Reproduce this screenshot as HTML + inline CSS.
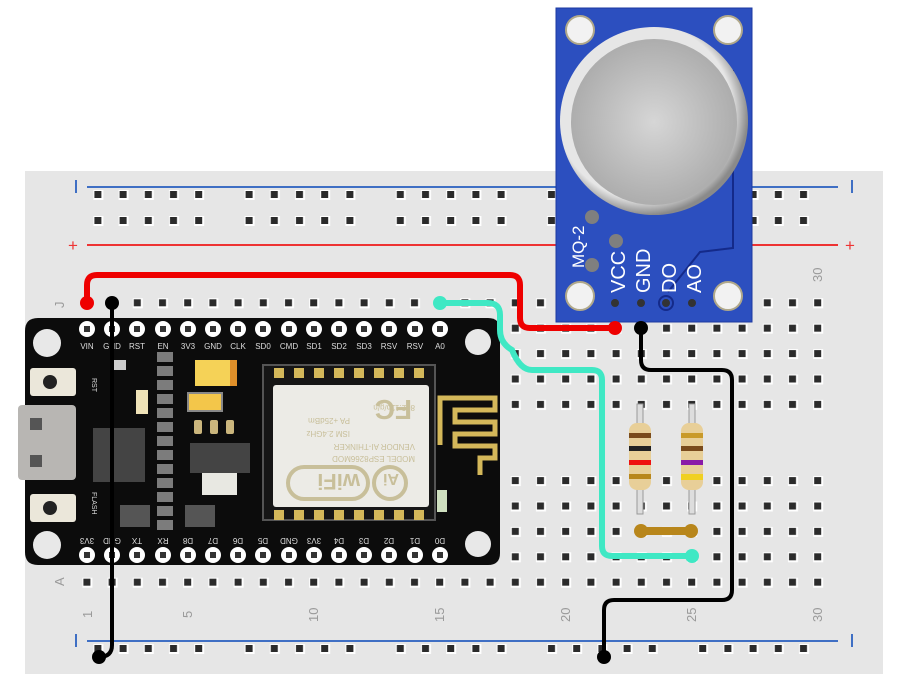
<!DOCTYPE html>
<html><head><meta charset="utf-8"><style>
html,body{margin:0;padding:0;background:#fff;width:900px;height:674px;overflow:hidden}
svg{display:block}
text{font-family:"Liberation Sans",sans-serif}
</style></head><body>
<svg width="900" height="674" viewBox="0 0 900 674" xmlns="http://www.w3.org/2000/svg">
<defs>
<pattern id="hole" x="74.4" y="290.3" width="25.2" height="25.4" patternUnits="userSpaceOnUse">
<rect x="8" y="8" width="10" height="10" fill="#fff"/><rect x="9" y="9" width="7" height="7" fill="#2b2b2b"/>
</pattern>
<pattern id="rh" x="85.4" y="0" width="25.2" height="26" patternUnits="userSpaceOnUse">
<rect x="8" y="8" width="10" height="10" fill="#fff"/><rect x="9" y="9" width="7" height="7" fill="#2b2b2b"/>
</pattern>
<radialGradient id="mesh" cx="50%" cy="50%" r="55%"><stop offset="0" stop-color="#d6d6d6"/><stop offset="1" stop-color="#a9a9a9"/></radialGradient>
<radialGradient id="ring" cx="45%" cy="45%" r="55%"><stop offset="0.85" stop-color="#e6e6e6"/><stop offset="1" stop-color="#8a8a8a"/></radialGradient>
</defs>

<rect x="25" y="171" width="858" height="503" fill="#e6e6e6"/>
<line x1="87" y1="187" x2="838" y2="187" stroke="#3f6fc4" stroke-width="2"/>
<line x1="76" y1="180" x2="76" y2="193" stroke="#3f6fc4" stroke-width="2"/>
<line x1="852" y1="180" x2="852" y2="193" stroke="#3f6fc4" stroke-width="2"/>
<line x1="87" y1="245" x2="838" y2="245" stroke="#e33" stroke-width="2"/>
<text x="68" y="251" font-size="17" fill="#e33">+</text>
<text x="845" y="251" font-size="17" fill="#e33">+</text>
<g fill="url(#rh)">
<rect x="85.4" y="190" width="126" height="52"/>
<rect x="236" y="190" width="126" height="52"/>
<rect x="387" y="190" width="126" height="52"/>
<rect x="538" y="190" width="126" height="52"/>
<rect x="689" y="190" width="126" height="52"/>
</g>
<rect x="74.4" y="290.3" width="756" height="127" fill="url(#hole)"/>
<rect x="74.4" y="467.3" width="756" height="127" fill="url(#hole)"/>
<line x1="87" y1="641" x2="838" y2="641" stroke="#3f6fc4" stroke-width="2"/>
<line x1="76" y1="634" x2="76" y2="647" stroke="#3f6fc4" stroke-width="2"/>
<line x1="852" y1="634" x2="852" y2="647" stroke="#3f6fc4" stroke-width="2"/>
<g fill="url(#rh)" transform="translate(0,12)">
<rect x="85.4" y="632" width="126" height="26"/>
<rect x="236" y="632" width="126" height="26"/>
<rect x="387" y="632" width="126" height="26"/>
<rect x="538" y="632" width="126" height="26"/>
<rect x="689" y="632" width="126" height="26"/>
</g>
<g font-size="13" fill="#9a9a9a">
<text transform="translate(64,308) rotate(-90)">J</text>
<text transform="translate(64,586) rotate(-90)">A</text>
<text transform="translate(92,618) rotate(-90)">1</text>
<text transform="translate(192,618) rotate(-90)">5</text>
<text transform="translate(318,622) rotate(-90)">10</text>
<text transform="translate(444,622) rotate(-90)">15</text>
<text transform="translate(570,622) rotate(-90)">20</text>
<text transform="translate(696,622) rotate(-90)">25</text>
<text transform="translate(822,622) rotate(-90)">30</text>
<text transform="translate(822,282) rotate(-90)">30</text>
</g>

<g>
<rect x="637" y="404" width="6" height="110" fill="#ddd" stroke="#999" stroke-width="1"/>
<rect x="689" y="404" width="6" height="110" fill="#ddd" stroke="#999" stroke-width="1"/>
<rect x="629" y="423" width="22" height="67" rx="8" fill="#e8cf98"/>
<rect x="681" y="423" width="22" height="67" rx="8" fill="#e8cf98"/>
<rect x="629" y="433" width="22" height="5" fill="#7a4b1c"/>
<rect x="629" y="446" width="22" height="5" fill="#222"/>
<rect x="629" y="460" width="22" height="5" fill="#e11"/>
<rect x="629" y="474" width="22" height="5" fill="#b8871c"/>
<rect x="681" y="433" width="22" height="5" fill="#c99a2a"/>
<rect x="681" y="446" width="22" height="5" fill="#7a4b1c"/>
<rect x="681" y="460" width="22" height="5" fill="#8a1aa8"/>
<rect x="681" y="474" width="22" height="6" fill="#f0d020"/>
</g>
<line x1="640" y1="531" x2="692" y2="531" stroke="#b8861b" stroke-width="8"/>
<circle cx="641" cy="531" r="7" fill="#b8861b"/><circle cx="691" cy="531" r="7" fill="#b8861b"/>

<path d="M38 318 H488 Q500 318 500 330 V553 Q500 565 488 565 H38 Q25 565 25 552 V331 Q25 318 38 318 Z" fill="#0c0c0c"/>
<circle cx="47" cy="343" r="14" fill="#e8e8e8"/><circle cx="47" cy="545" r="14" fill="#e8e8e8"/>
<circle cx="478" cy="342" r="13" fill="#e8e8e8"/><circle cx="478" cy="544" r="13" fill="#e8e8e8"/>
<g fill="#fff">
<circle cx="87" cy="329" r="8"/><circle cx="112" cy="329" r="8"/><circle cx="137" cy="329" r="8"/><circle cx="163" cy="329" r="8"/><circle cx="188" cy="329" r="8"/><circle cx="213" cy="329" r="8"/><circle cx="238" cy="329" r="8"/><circle cx="263" cy="329" r="8"/><circle cx="289" cy="329" r="8"/><circle cx="314" cy="329" r="8"/><circle cx="339" cy="329" r="8"/><circle cx="364" cy="329" r="8"/><circle cx="389" cy="329" r="8"/><circle cx="415" cy="329" r="8"/><circle cx="440" cy="329" r="8"/>
<circle cx="87" cy="555" r="8"/><circle cx="112" cy="555" r="8"/><circle cx="137" cy="555" r="8"/><circle cx="163" cy="555" r="8"/><circle cx="188" cy="555" r="8"/><circle cx="213" cy="555" r="8"/><circle cx="238" cy="555" r="8"/><circle cx="263" cy="555" r="8"/><circle cx="289" cy="555" r="8"/><circle cx="314" cy="555" r="8"/><circle cx="339" cy="555" r="8"/><circle cx="364" cy="555" r="8"/><circle cx="389" cy="555" r="8"/><circle cx="415" cy="555" r="8"/><circle cx="440" cy="555" r="8"/>
</g>
<g fill="#333">
<rect x="84" y="326" width="6" height="6"/><rect x="109" y="326" width="6" height="6"/><rect x="134" y="326" width="6" height="6"/><rect x="160" y="326" width="6" height="6"/><rect x="185" y="326" width="6" height="6"/><rect x="210" y="326" width="6" height="6"/><rect x="235" y="326" width="6" height="6"/><rect x="260" y="326" width="6" height="6"/><rect x="286" y="326" width="6" height="6"/><rect x="311" y="326" width="6" height="6"/><rect x="336" y="326" width="6" height="6"/><rect x="361" y="326" width="6" height="6"/><rect x="386" y="326" width="6" height="6"/><rect x="412" y="326" width="6" height="6"/><rect x="437" y="326" width="6" height="6"/>
<rect x="84" y="552" width="6" height="6"/><rect x="109" y="552" width="6" height="6"/><rect x="134" y="552" width="6" height="6"/><rect x="160" y="552" width="6" height="6"/><rect x="185" y="552" width="6" height="6"/><rect x="210" y="552" width="6" height="6"/><rect x="235" y="552" width="6" height="6"/><rect x="260" y="552" width="6" height="6"/><rect x="286" y="552" width="6" height="6"/><rect x="311" y="552" width="6" height="6"/><rect x="336" y="552" width="6" height="6"/><rect x="361" y="552" width="6" height="6"/><rect x="386" y="552" width="6" height="6"/><rect x="412" y="552" width="6" height="6"/><rect x="437" y="552" width="6" height="6"/>
</g>
<g font-size="8" fill="#ddd" font-family="Liberation Mono" text-anchor="middle">
<text x="87" y="349">VIN</text><text x="112" y="349">GND</text><text x="137" y="349">RST</text><text x="163" y="349">EN</text><text x="188" y="349">3V3</text><text x="213" y="349">GND</text><text x="238" y="349">CLK</text><text x="263" y="349">SD0</text><text x="289" y="349">CMD</text><text x="314" y="349">SD1</text><text x="339" y="349">SD2</text><text x="364" y="349">SD3</text><text x="389" y="349">RSV</text><text x="415" y="349">RSV</text><text x="440" y="349">A0</text>
</g>
<g font-size="8" fill="#ddd" font-family="Liberation Mono" text-anchor="middle">
<text transform="translate(87,538) rotate(180)">3V3</text><text transform="translate(112,538) rotate(180)">GND</text><text transform="translate(137,538) rotate(180)">TX</text><text transform="translate(163,538) rotate(180)">RX</text><text transform="translate(188,538) rotate(180)">D8</text><text transform="translate(213,538) rotate(180)">D7</text><text transform="translate(238,538) rotate(180)">D6</text><text transform="translate(263,538) rotate(180)">D5</text><text transform="translate(289,538) rotate(180)">GND</text><text transform="translate(314,538) rotate(180)">3V3</text><text transform="translate(339,538) rotate(180)">D4</text><text transform="translate(364,538) rotate(180)">D3</text><text transform="translate(389,538) rotate(180)">D2</text><text transform="translate(415,538) rotate(180)">D1</text><text transform="translate(440,538) rotate(180)">D0</text>
</g>
<rect x="18" y="405" width="58" height="75" rx="4" fill="#b8b6b3"/>
<rect x="30" y="418" width="12" height="12" fill="#555"/><rect x="30" y="455" width="12" height="12" fill="#555"/>
<rect x="30" y="368" width="46" height="28" rx="3" fill="#ebe7da"/><circle cx="50" cy="382" r="7" fill="#222"/>
<rect x="30" y="494" width="46" height="28" rx="3" fill="#ebe7da"/><circle cx="50" cy="508" r="7" fill="#222"/>
<text transform="translate(92,378) rotate(90)" font-size="7" fill="#ddd">RST</text>
<text transform="translate(92,492) rotate(90)" font-size="7" fill="#ddd">FLASH</text>
<rect x="93" y="428" width="52" height="54" fill="#444"/>
<rect x="112" y="360" width="14" height="10" fill="#ccc"/>
<rect x="136" y="390" width="12" height="24" fill="#efe3b8"/>
<rect x="195" y="360" width="42" height="26" fill="#f5d257"/><rect x="230" y="360" width="7" height="26" fill="#e0902a"/>
<rect x="188" y="393" width="34" height="18" fill="#f3c64a" stroke="#888" stroke-width="2"/>
<rect x="190" y="443" width="60" height="30" fill="#444"/>
<rect x="202" y="473" width="35" height="22" fill="#e8e8e2"/>
<g fill="#7c7c7c">
<rect x="157" y="352" width="16" height="10"/><rect x="157" y="366" width="16" height="10"/><rect x="157" y="380" width="16" height="10"/><rect x="157" y="394" width="16" height="10"/><rect x="157" y="408" width="16" height="10"/><rect x="157" y="422" width="16" height="10"/><rect x="157" y="436" width="16" height="10"/><rect x="157" y="450" width="16" height="10"/><rect x="157" y="464" width="16" height="10"/><rect x="157" y="478" width="16" height="10"/><rect x="157" y="492" width="16" height="10"/><rect x="157" y="506" width="16" height="10"/><rect x="157" y="520" width="16" height="10"/>
</g>
<rect x="120" y="505" width="30" height="22" fill="#555"/><rect x="185" y="505" width="30" height="22" fill="#555"/>
<g fill="#cbb67d"><rect x="194" y="420" width="8" height="14" rx="2"/><rect x="210" y="420" width="8" height="14" rx="2"/><rect x="226" y="420" width="8" height="14" rx="2"/></g>
<rect x="263" y="365" width="172" height="155" fill="#161616" stroke="#555" stroke-width="2"/>
<g fill="#d4b85a"><rect x="274" y="368" width="10" height="10"/><rect x="294" y="368" width="10" height="10"/><rect x="314" y="368" width="10" height="10"/><rect x="334" y="368" width="10" height="10"/><rect x="354" y="368" width="10" height="10"/><rect x="374" y="368" width="10" height="10"/><rect x="394" y="368" width="10" height="10"/><rect x="414" y="368" width="10" height="10"/>
<rect x="274" y="510" width="10" height="10"/><rect x="294" y="510" width="10" height="10"/><rect x="314" y="510" width="10" height="10"/><rect x="334" y="510" width="10" height="10"/><rect x="354" y="510" width="10" height="10"/><rect x="374" y="510" width="10" height="10"/><rect x="394" y="510" width="10" height="10"/><rect x="414" y="510" width="10" height="10"/></g>
<rect x="273" y="385" width="156" height="122" rx="3" fill="#ecebe6"/>
<g fill="#c8bf9a" font-size="8" font-family="Liberation Mono">
<text transform="translate(415,405) rotate(180)">802.11b/g/n</text>
<text transform="translate(350,418) rotate(180)">PA +25dBm</text>
<text transform="translate(350,431) rotate(180)">ISM 2.4GHz</text>
<text transform="translate(415,444) rotate(180)">VENDOR AI-THINKER</text>
<text transform="translate(415,456) rotate(180)">MODEL ESP8266MOD</text>
</g>
<text transform="translate(412,400) rotate(180)" font-size="28" font-weight="bold" fill="#c8bf9a">FC</text>
<rect x="288" y="467" width="80" height="32" rx="16" fill="none" stroke="#c8bf9a" stroke-width="4"/>
<circle cx="390" cy="483" r="16" fill="none" stroke="#c8bf9a" stroke-width="4"/>
<text transform="translate(360,474) rotate(180)" font-size="22" font-weight="bold" fill="#c8bf9a">wiFi</text>
<text transform="translate(399,474) rotate(180)" font-size="16" font-weight="bold" fill="#c8bf9a">Ai</text>
<path d="M440 445 V398 H495 V410 H455 V422 H495 V434 H455 V446 H495 V458 H480 V475" fill="none" stroke="#d4b85a" stroke-width="5"/>
<rect x="437" y="490" width="10" height="22" fill="#cfe0c0"/>

<rect x="556" y="8" width="196" height="314" fill="#2c4fbf" stroke="#1d3aa0" stroke-width="1"/>
<g fill="#f2f2f2" stroke="#b0a88a" stroke-width="2"><circle cx="580" cy="30" r="14"/><circle cx="728" cy="30" r="14"/><circle cx="580" cy="296" r="14"/><circle cx="728" cy="296" r="14"/></g>
<path d="M733 70 V248 L700 252 L668 292" fill="none" stroke="#142a8a" stroke-width="2"/>
<circle cx="654" cy="121" r="94" fill="url(#ring)"/>
<circle cx="654" cy="122" r="83" fill="url(#mesh)"/>
<g fill="#7f7f7f"><circle cx="592" cy="217" r="7"/><circle cx="616" cy="241" r="7"/><circle cx="592" cy="265" r="7"/></g>
<g font-family="Liberation Mono" font-size="20" fill="#fff">
<text transform="translate(584,268) rotate(-90)" font-size="17">MQ-2</text>
<text transform="translate(625,293) rotate(-90)">VCC</text>
<text transform="translate(650,293) rotate(-90)">GND</text>
<text transform="translate(676,293) rotate(-90)">DO</text>
<text transform="translate(701,293) rotate(-90)">AO</text>
</g>
<g fill="#333"><circle cx="615" cy="303" r="4"/><circle cx="641" cy="303" r="4"/><circle cx="666" cy="303" r="4"/><circle cx="692" cy="303" r="4"/></g>
<circle cx="666" cy="303" r="7" fill="none" stroke="#142a8a" stroke-width="2"/>

<path d="M87 303 V285 Q87 275 97 275 H510 Q520 275 520 285 V318 Q520 328 530 328 H615" fill="none" stroke="#e00" stroke-width="6"/>
<circle cx="87" cy="303" r="7" fill="#e00"/><circle cx="615" cy="328" r="7" fill="#e00"/>
<path d="M440 303 H488 Q500 303 500 315 V330 Q500 343 512 350 Q520 370 532 370 H592 Q602 370 602 380 V546 Q602 556 612 556 H692" fill="none" stroke="#3fe8c4" stroke-width="6"/>
<circle cx="440" cy="303" r="7" fill="#3fe8c4"/><circle cx="692" cy="556" r="7" fill="#3fe8c4"/>
<path d="M112 303 V645 Q112 657 99 657" fill="none" stroke="#000" stroke-width="4"/>
<circle cx="112" cy="303" r="7" fill="#000"/><circle cx="99" cy="657" r="7" fill="#000"/>
<path d="M641 328 V360 Q641 370 651 370 H722 Q732 370 732 380 V590 Q732 600 722 600 H614 Q604 600 604 610 V657" fill="none" stroke="#000" stroke-width="4"/>
<circle cx="641" cy="328" r="7" fill="#000"/><circle cx="604" cy="657" r="7" fill="#000"/>
</svg>
</body></html>
